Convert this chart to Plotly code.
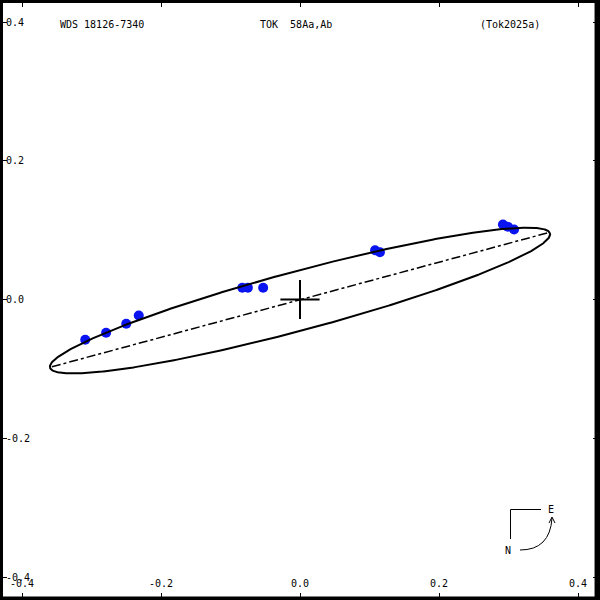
import numpy as np
import plotly.graph_objects as go

# ---- data (arcsec offsets) ----
obs_x = [-0.309, -0.279, -0.250, -0.232, -0.083, -0.075, -0.053, 0.108, 0.115, 0.292, 0.299, 0.308]
obs_y = [-0.058, -0.048, -0.035, -0.023, 0.017, 0.017, 0.017, 0.071, 0.068, 0.108, 0.105, 0.101]

# apparent orbit ellipse parameters
ell_cx, ell_cy = 0.0, -0.0015
ell_a, ell_b = 0.3725, 0.0425
ell_angle_deg = 15.05

# line through primary (dash-dot), end points
node_x = [-0.357, 0.356]
node_y = [-0.097, 0.096]

primary_x = [0.0]
primary_y = [0.0]

tick_vals = [-0.4, -0.2, 0.0, 0.2, 0.4]
tick_text = ["-0.4", "-0.2", "0.0", "0.2", "0.4"]

title_left = "WDS 18126-7340"
title_mid = "TOK\u00a0\u00a058Aa,Ab"
title_right = "(Tok2025a)"

FONT = "DejaVu Sans Mono"
W = H = 600
XR = [-0.43165, 0.43165]
YR = [-0.43315, 0.43171]

t = np.linspace(0, 2 * np.pi, 721)
th = np.radians(ell_angle_deg)
ex = ell_cx + ell_a * np.cos(t) * np.cos(th) - ell_b * np.sin(t) * np.sin(th)
ey = ell_cy + ell_a * np.cos(t) * np.sin(th) + ell_b * np.sin(t) * np.cos(th)

fig = go.Figure()
fig.add_trace(go.Scatter(x=obs_x, y=obs_y, mode="markers",
                         marker=dict(color="#0a14f0", size=10, line=dict(width=0))))
fig.add_trace(go.Scatter(x=ex, y=ey, mode="lines", line=dict(color="black", width=2)))
fig.add_trace(go.Scatter(x=node_x, y=node_y, mode="lines",
                         line=dict(color="black", width=1.5, dash="dashdot")))
fig.add_trace(go.Scatter(x=primary_x, y=primary_y, mode="markers", xaxis="x2", yaxis="y2",
                         marker=dict(symbol="cross-thin", size=28,
                                     line=dict(color="black", width=2))))

def px(x):
    return x / W

def py(y):
    return 1 - y / H

shapes = []
frame = dict(type="line", xref="paper", yref="paper")
shapes.append({**frame, "x0": px(1.5), "x1": px(1.5), "y0": 0, "y1": 1, "line": dict(color="black", width=3)})
shapes.append({**frame, "x0": 0, "x1": 1, "y0": py(1.5), "y1": py(1.5), "line": dict(color="black", width=3)})
shapes.append({**frame, "x0": 0, "x1": 1, "y0": py(598.3), "y1": py(598.3), "line": dict(color="black", width=3.5)})
shapes.append({**frame, "x0": px(597.3), "x1": px(597.3), "y0": 0, "y1": 1, "line": dict(color="black", width=5.5)})
# compass
shapes.append(dict(type="line", xref="paper", yref="paper", x0=px(510.5), x1=px(510.5),
                   y0=py(509.5), y1=py(539), line=dict(color="black", width=1)))
shapes.append(dict(type="line", xref="paper", yref="paper", x0=px(510.5), x1=px(541),
                   y0=py(509.5), y1=py(509.5), line=dict(color="black", width=1)))
curve = "M {} {} Q {} {} {} {}".format(px(520), py(550), px(550), py(550), px(552), py(518))
shapes.append(dict(type="path", xref="paper", yref="paper", path=curve,
                   line=dict(color="black", width=1)))
head = "M {} {} L {} {} L {} {}".format(px(549), py(523), px(552), py(517), px(555), py(523))
shapes.append(dict(type="path", xref="paper", yref="paper", path=head,
                   line=dict(color="black", width=1)))

annotations = []
for txt, x0 in [(title_left, 58), (title_mid, 258), (title_right, 478)]:
    annotations.append(dict(text=txt, x=px(x0), y=py(24), xref="paper", yref="paper",
                            xanchor="left", yanchor="middle", showarrow=False,
                            font=dict(family=FONT, size=10, color="black")))
annotations.append(dict(text="E", x=px(551), y=py(509), xref="paper", yref="paper",
                        xanchor="center", yanchor="middle", showarrow=False,
                        font=dict(family=FONT, size=10, color="black")))
annotations.append(dict(text="N", x=px(508), y=py(550), xref="paper", yref="paper",
                        xanchor="center", yanchor="middle", showarrow=False,
                        font=dict(family=FONT, size=10, color="black")))

tickfont = dict(family=FONT, size=10, color="black")
main_axis = dict(showgrid=False, zeroline=False, ticks="inside", ticklen=7, tickwidth=1,
                 tickcolor="black", mirror="allticks", showline=True, linecolor="black",
                 linewidth=1, tickvals=tick_vals, showticklabels=False)
label_axis = dict(showgrid=False, zeroline=False, ticks="", showline=False,
                  tickvals=tick_vals, ticktext=tick_text, tickfont=tickfont,
                  anchor="free", position=0)

fig.update_layout(
    width=W, height=H, margin=dict(l=0, r=0, t=0, b=0),
    paper_bgcolor="white", plot_bgcolor="white", showlegend=False,
    xaxis=dict(range=XR, **main_axis),
    yaxis=dict(range=YR, **main_axis),
    xaxis2=dict(range=XR, overlaying="x", side="top", ticklabelstandoff=11, **label_axis),
    yaxis2=dict(range=YR, overlaying="y", side="right", ticklabelstandoff=5, **label_axis),
    shapes=shapes, annotations=annotations,
)

fig.write_html("out.html", config={"displayModeBar": False},
               post_script="document.body.style.margin='0px';")
